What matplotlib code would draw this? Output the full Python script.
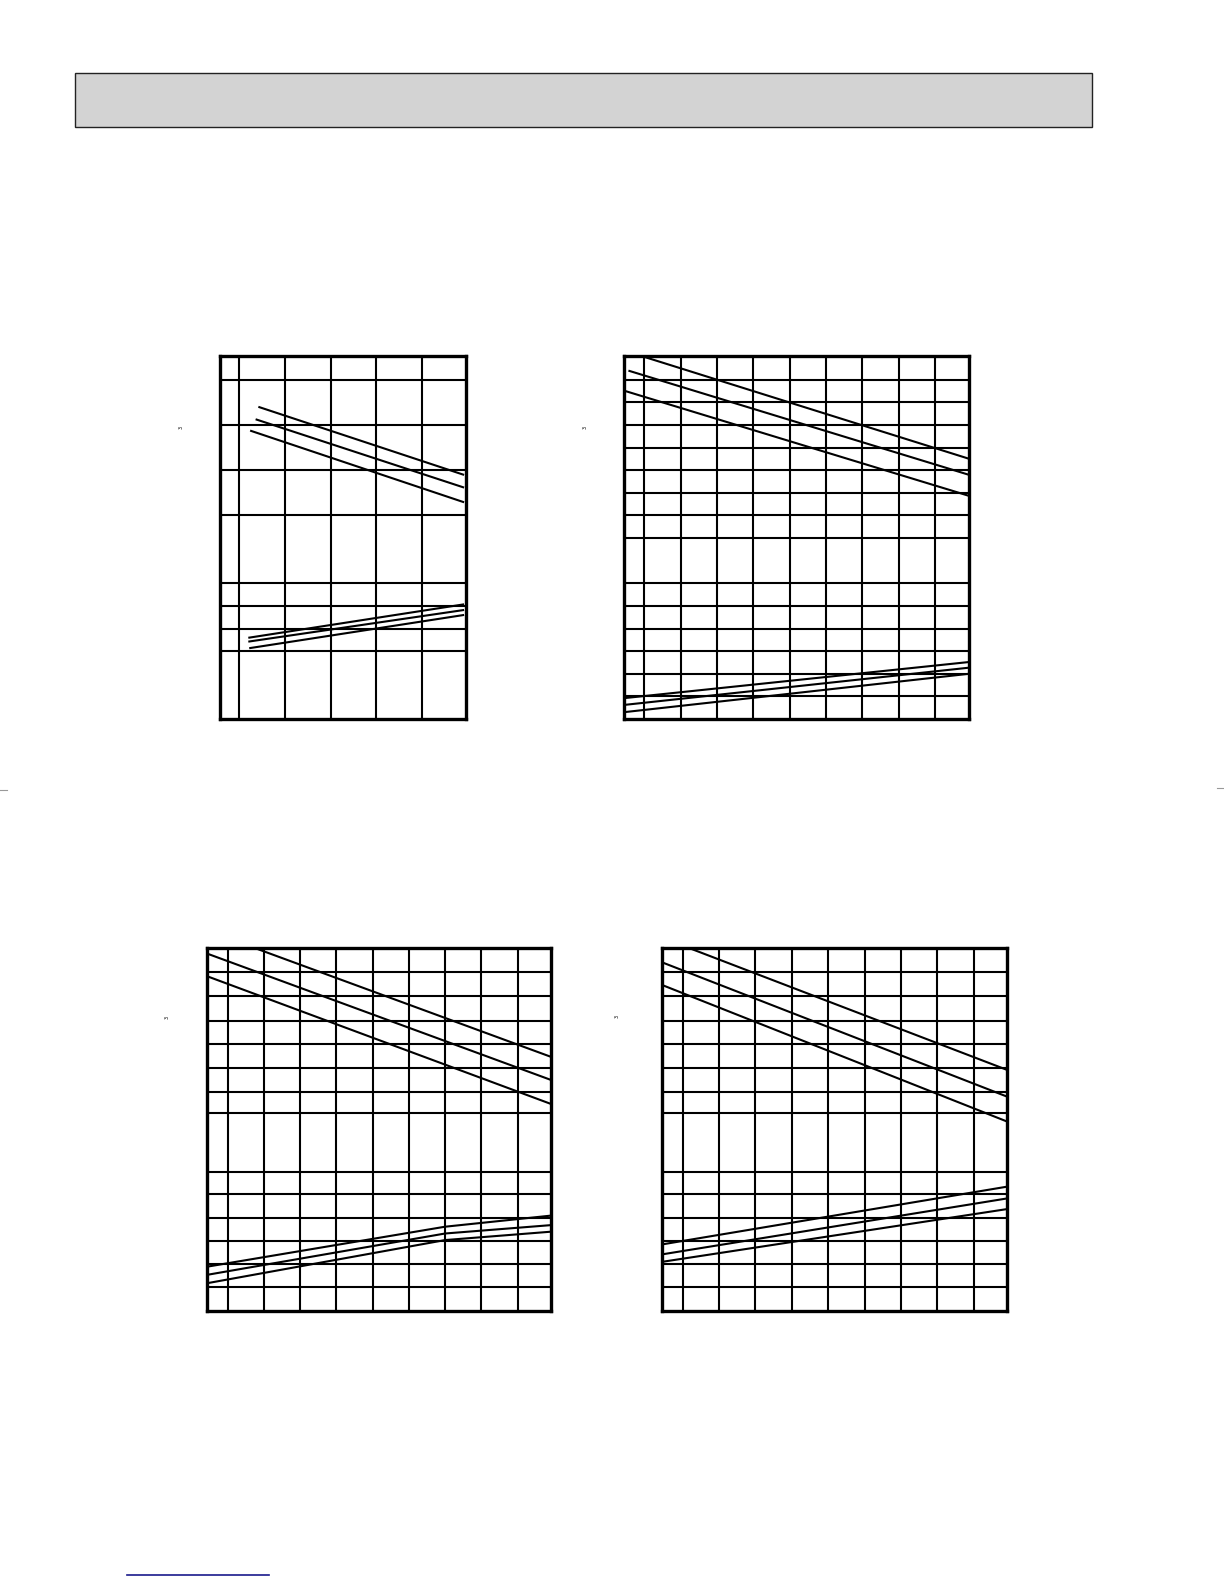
import matplotlib.pyplot as plt
import matplotlib.patches as patches

# grid positions and curves, in grid units (x: one vertical grid step, y: one fine horizontal step)
c1_xgrid = [0, 1, 2, 3, 4]
c1_ygrid = [3, 4, 5, 6, 9, 11, 13, 15]
c1_cap_x = [[0.42, 4.92], [0.36, 4.92], [0.24, 4.92]]
c1_cap_y = [[13.8, 10.79], [13.25, 10.23], [12.75, 9.58]]
c1_pow_x = [[0.2, 4.92], [0.2, 4.92], [0.22, 4.92]]
c1_pow_y = [[3.59, 5.07], [3.42, 4.82], [3.13, 4.6]]

c2_xgrid = [0, 1, 2, 3, 4, 5, 6, 7, 8]
c2_ygrid = [1, 2, 3, 4, 5, 6, 8, 9, 10, 11, 12, 13, 14, 15]
c2_cap_x = [[0.01, 8.94], [-0.44, 8.94], [-0.53, 8.94]]
c2_cap_y = [[16.0, 11.5], [15.4, 10.79], [14.5, 9.86]]
c2_pow_x = [[-0.57, 8.94], [-0.57, 8.94], [-0.57, 8.94]]
c2_pow_y = [[0.92, 2.52], [0.62, 2.27], [0.3, 2.0]]

c3_xgrid = [0, 1, 2, 3, 4, 5, 6, 7, 8]
c3_ygrid = [1.05, 2.07, 3.08, 4.1, 5.13, 6.13, 8.71, 9.66, 10.69, 11.77, 12.79, 13.89, 14.93]
c3_cap_x = [[0.83, 8.92], [-0.58, 8.92], [-0.58, 8.92]]
c3_cap_y = [[15.96, 11.2], [15.77, 10.18], [14.77, 9.12]]
c3_pow_x = [[-0.58, 6.0, 8.92], [-0.58, 6.0, 8.92], [-0.58, 6.0, 8.92]]
c3_pow_y = [[1.93, 3.7, 4.19], [1.57, 3.4, 3.77], [1.2, 3.11, 3.48]]

c4_xgrid = [0, 1, 2, 3, 4, 5, 6, 7, 8]
c4_ygrid = [1.05, 2.07, 3.08, 4.1, 5.13, 6.13, 8.71, 9.66, 10.69, 11.77, 12.79, 13.89, 14.93]
c4_cap_x = [[0.2, 8.92], [-0.56, 8.92], [-0.56, 8.92]]
c4_cap_y = [[15.99, 10.62], [15.37, 9.44], [14.37, 8.34]]
c4_pow_x = [[-0.56, 8.92], [-0.56, 8.92], [-0.56, 8.92]]
c4_pow_y = [[2.92, 5.47], [2.48, 4.95], [2.15, 4.48]]

fig = plt.figure(figsize=(12.24, 15.84), dpi=100)

# grey title bar at the top of the page
fig.patches.append(patches.Rectangle((74.5 / 1224, 1 - 127 / 1584), 1017 / 1224, 54.5 / 1584,
                                     transform=fig.transFigure, facecolor='#d3d3d3',
                                     edgecolor='#222222', linewidth=1.0))
# small margin marks and the blue underline at the bottom
fig.add_artist(plt.Line2D([0, 7 / 1224], [1 - 790 / 1584] * 2, color='#999999', lw=0.8))
fig.add_artist(plt.Line2D([1217 / 1224, 1], [1 - 788 / 1584] * 2, color='#999999', lw=0.8))
fig.add_artist(plt.Line2D([127 / 1224, 269 / 1224], [1 - 1575 / 1584] * 2, color='#1a1a8c', lw=1.2))


def chart(rect, xlim, ylim, xgrid, ygrid, curves, sup_xy):
    ax = fig.add_axes(rect)
    ax.set_xlim(xlim)
    ax.set_ylim(ylim)
    for x in xgrid:
        ax.axvline(x, color='black', lw=1.5)
    for y in ygrid:
        ax.axhline(y, color='black', lw=1.5)
    for xs, ys in curves:
        for cx, cy in zip(xs, ys):
            ax.plot(cx, cy, color='black', lw=1.5, solid_capstyle='butt')
    ax.set_xticks([])
    ax.set_yticks([])
    for s in ax.spines.values():
        s.set_linewidth(2.4)
    fig.text(sup_xy[0] / 1224, 1 - sup_xy[1] / 1584, '3', fontsize=3.5, rotation=90,
             ha='center', va='center')
    return ax


chart([219.5 / 1224, 1 - 719 / 1584, 246.2 / 1224, 363.3 / 1584], (-0.43, 4.955), (0, 16.06),
      c1_xgrid, c1_ygrid, [(c1_cap_x, c1_cap_y), (c1_pow_x, c1_pow_y)], (181.5, 427))
chart([623.7 / 1224, 1 - 719 / 1584, 345.6 / 1224, 363.3 / 1584], (-0.57, 8.94), (0, 16.06),
      c2_xgrid, c2_ygrid, [(c2_cap_x, c2_cap_y), (c2_pow_x, c2_pow_y)], (585.5, 427))
chart([206.5 / 1224, 1 - 1310.5 / 1584, 344.5 / 1224, 362.8 / 1584], (-0.58, 8.92), (0, 16.02),
      c3_xgrid, c3_ygrid, [(c3_cap_x, c3_cap_y), (c3_pow_x, c3_pow_y)], (166.7, 1017))
chart([662.3 / 1224, 1 - 1310.5 / 1584, 345.0 / 1224, 362.8 / 1584], (-0.56, 8.92), (0, 16.02),
      c4_xgrid, c4_ygrid, [(c4_cap_x, c4_cap_y), (c4_pow_x, c4_pow_y)], (616.7, 1016))

fig.savefig('out.png', dpi=100)
